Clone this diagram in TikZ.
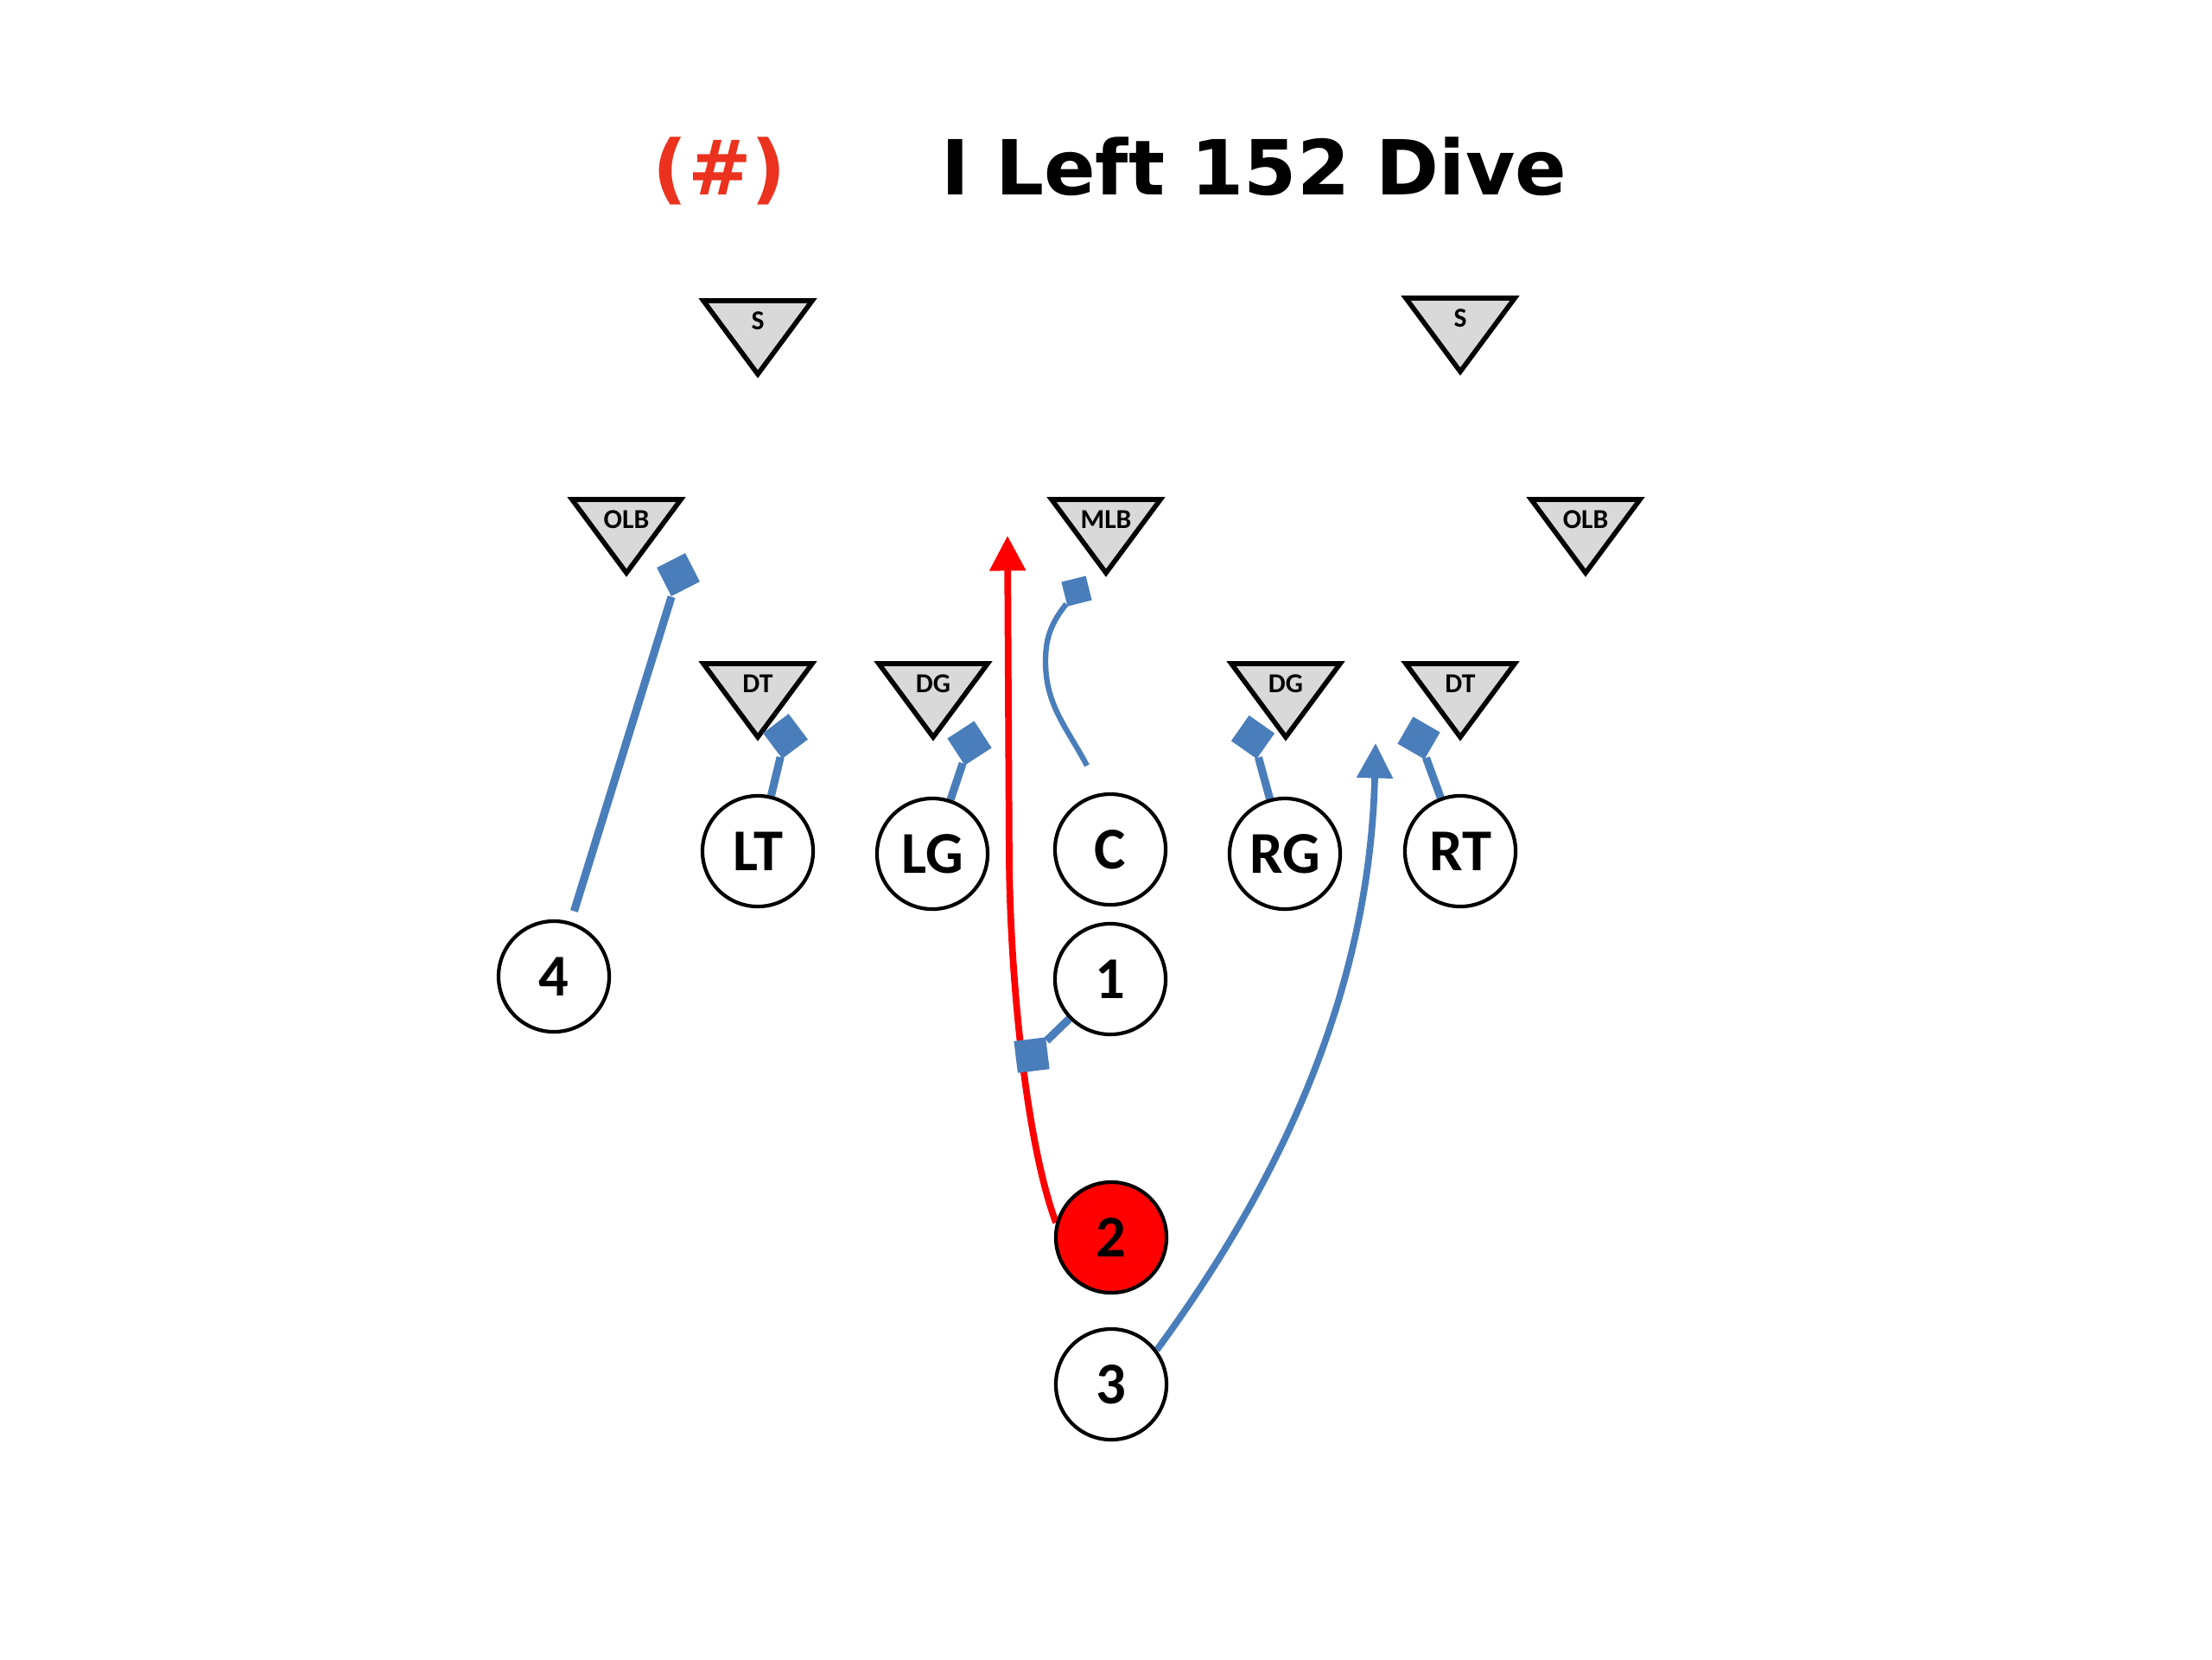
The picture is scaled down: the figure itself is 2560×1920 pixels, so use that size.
\documentclass[tikz,border=0pt]{standalone}
\usepackage{fontspec}
\newfontfamily\titlefont{DejaVu Sans}
\newfontfamily\labfont{Carlito}
\usetikzlibrary{arrows.meta,calc}
\pgfdeclarelayer{bg}
\pgfsetlayers{bg,main}
\definecolor{pblue}{HTML}{4A7EBB}
\definecolor{tgray}{HTML}{D9D9D9}
\definecolor{tred}{RGB}{235,50,30}
\newcommand\deftri[4]{%
  \filldraw[tri] (#2-63,-#3) -- (#2+63,-#3) -- (#2,-#3-85) -- cycle;
  \node[tlab] (#1) at (#2,-#3-23) {#4};}
\begin{document}
\begin{tikzpicture}[x=0.01cm,y=0.01cm,
  player/.style={circle, draw=black, line width=1.2pt, fill=white, minimum size=1.28cm, inner sep=0pt,
    font=\labfont\bfseries\fontsize{19.5}{21}\selectfont},
  tri/.style={draw=black, fill=tgray, line width=1.6pt},
  tlab/.style={font=\labfont\bfseries\fontsize{9}{10}\selectfont, inner sep=0pt},
  blk/.style={rectangle, fill=pblue, inner sep=0pt, minimum size=#1},
  blkline/.style={draw=pblue, line width=2.6pt},
  route/.style={line width=2.2pt, -{Triangle[length=11.5pt,width=11.5pt]}},
  ttl/.style={font=\titlefont\bfseries\fontsize{25}{30}\selectfont, anchor=base, inner sep=0pt}]
\useasboundingbox (0,0) rectangle (2560,-1920);
\begin{pgfonlayer}{bg}
\fill[white] (0,0) rectangle (2560,-1920);
\end{pgfonlayer}

% title
\node[ttl, text=tred] (num) at (833,-225) {(\#)};
\node[ttl] (title) at (1451,-225) {I Left 152 Dive};

% defense
\deftri{sL}{877}{348}{S}
\deftri{sR}{1690}{345}{S}
\deftri{olbL}{725}{578}{OLB}
\deftri{mlb}{1280}{578}{MLB}
\deftri{olbR}{1835}{578}{OLB}
\deftri{dtL}{877}{768}{DT}
\deftri{dgL}{1080}{768}{DG}
\deftri{dgR}{1488}{768}{DG}
\deftri{dtR}{1690}{768}{DT}

% offense
\node[player] (n4) at (641,-1130) {4};
\node[player] (LT) at (877,-985) {LT};
\node[player] (LG) at (1079,-988) {LG};
\node[player] (C) at (1285,-983) {C};
\node[player] (RG) at (1487,-988) {RG};
\node[player] (RT) at (1690,-985) {RT};
\node[player] (one) at (1285,-1133) {1};
\node[player, fill=red] (two) at (1286,-1432) {2};
\node[player] (three) at (1286,-1602) {3};

% blocks
\node[blk=0.37cm, rotate=27] (bOLB) at (785,-665) {};
\node[blk=0.37cm, rotate=37] (bDT1) at (909,-852) {};
\node[blk=0.37cm, rotate=33] (bDG1) at (1122,-860) {};
\node[blk=0.29cm, rotate=14] (bMLB) at (1246,-684) {};
\node[blk=0.36cm, rotate=-35] (bDG2) at (1450,-853) {};
\node[blk=0.36cm, rotate=-30] (bDT2) at (1642,-854) {};
\node[blk=0.37cm, rotate=7] (bone) at (1194,-1221) {};

\begin{pgfonlayer}{bg}
\draw[blkline, shorten <=0.13cm] (n4) -- (bOLB);
\draw[blkline] (LT) -- (bDT1);
\draw[blkline] (LG) -- (bDG1);
\draw[blkline] (RG) -- (bDG2);
\draw[blkline] (RT) -- (bDT2);
\draw[blkline] (one) -- (bone);
\coordinate (cst) at (1258,-886);
\draw[pblue, line width=1.8pt] (cst) to[out=118,in=270] (1210,-765) to[out=90,in=225] (bMLB);
\coordinate (rtip) at (1166,-620);
\draw[red, route] (two.165) .. controls (1190,-1330) and (1170,-1150) .. (1168,-1000) -- (rtip);
\coordinate (btip) at (1592,-860);
\draw[pblue, route] (three.37) .. controls (1480,-1370) and (1585,-1150) .. (btip);
\end{pgfonlayer}
\end{tikzpicture}
\end{document}
